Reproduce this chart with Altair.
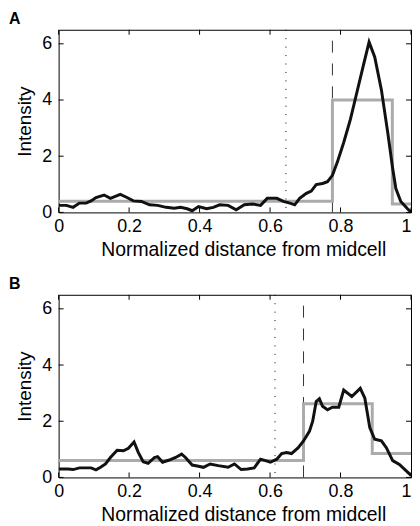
import altair as alt
import pandas as pd

# ---- data ----
xa = [0.0, 0.022, 0.041, 0.059, 0.078, 0.092, 0.106, 0.129, 0.147, 0.175, 0.194, 0.212, 0.235, 0.258,
      0.281, 0.305, 0.328, 0.346, 0.365, 0.379, 0.397, 0.420, 0.439, 0.457, 0.481, 0.504, 0.527, 0.550,
      0.573, 0.592, 0.619, 0.638, 0.656, 0.670, 0.684, 0.703, 0.717, 0.731, 0.749, 0.763, 0.777, 0.791,
      0.809, 0.828, 0.846, 0.865, 0.881, 0.897, 0.916, 0.934, 0.948, 0.957, 0.971, 0.990, 1.0]
ya = [0.25, 0.25, 0.18, 0.33, 0.33, 0.41, 0.53, 0.62, 0.50, 0.64, 0.53, 0.41, 0.39, 0.27,
      0.25, 0.18, 0.15, 0.18, 0.13, 0.06, 0.21, 0.13, 0.18, 0.27, 0.25, 0.09, 0.27, 0.30,
      0.25, 0.50, 0.50, 0.39, 0.33, 0.27, 0.50, 0.68, 0.76, 0.99, 1.03, 1.09, 1.32, 1.79,
      2.49, 3.31, 4.25, 5.24, 6.06, 5.53, 4.36, 2.84, 1.56, 0.85, 0.39, 0.13, 0.01]

xb = [0.0, 0.027, 0.041, 0.059, 0.078, 0.092, 0.106, 0.119, 0.133, 0.147, 0.166, 0.184, 0.198, 0.214,
      0.226, 0.240, 0.254, 0.272, 0.281, 0.295, 0.314, 0.332, 0.349, 0.360, 0.379, 0.397, 0.411, 0.430,
      0.453, 0.481, 0.499, 0.518, 0.536, 0.555, 0.573, 0.587, 0.601, 0.619, 0.633, 0.647, 0.661, 0.680,
      0.695, 0.712, 0.721, 0.731, 0.740, 0.749, 0.763, 0.777, 0.795, 0.809, 0.832, 0.856, 0.869, 0.883,
      0.897, 0.916, 0.930, 0.948, 0.967, 0.985, 1.0]
yb = [0.30, 0.30, 0.28, 0.34, 0.34, 0.34, 0.27, 0.36, 0.48, 0.71, 0.97, 0.95, 1.04, 1.26,
      0.89, 0.56, 0.50, 0.71, 0.74, 0.54, 0.62, 0.71, 0.83, 0.71, 0.44, 0.40, 0.36, 0.48,
      0.42, 0.36, 0.48, 0.28, 0.30, 0.34, 0.65, 0.60, 0.54, 0.65, 0.85, 0.89, 0.85, 1.06,
      1.30, 1.65, 2.00, 2.70, 2.80, 2.53, 2.41, 2.50, 2.50, 3.11, 2.88, 3.17, 2.82, 1.77,
      1.36, 1.30, 1.06, 0.60, 0.46, 0.25, 0.07]

step_xa = [0.0, 0.777, 0.947, 1.0]
step_ya = [0.4, 4.0, 0.3, 0.3]
step_xb = [0.0, 0.695, 0.89, 1.0]
step_yb = [0.6, 2.62, 0.85, 0.85]

dotted_a, dashed_a = 0.645, 0.777
dotted_b, dashed_b = 0.614, 0.695

x_ticks = [0, 0.2, 0.4, 0.6, 0.8, 1.0]
y_ticks = [0, 2, 4, 6]

W, H = 355, 184
FONT = "Liberation Sans"


def panel(label, cx, cy, sx, sy, xdot, xdash):
    curve = pd.DataFrame({"x": cx, "y": cy})
    step = pd.DataFrame({"x": sx, "y": sy})
    xs = alt.Scale(domain=[0, 1], nice=False)
    ys = alt.Scale(domain=[0, 6.5], nice=False)
    xax = alt.Axis(values=x_ticks, format="~g", ticks=False, grid=False, domain=False,
                   title="Normalized distance from midcell", labelFontSize=18, titleFontSize=19.5,
                   labelFont=FONT, titleFont=FONT, labelColor="black", titleColor="black",
                   titleFontWeight="normal", labelPadding=5, titlePadding=5, labelFlush=False,
                   labelAlign=alt.expr("datum.value == 1 ? 'right' : 'center'"),
                   titleX=186)
    yax = alt.Axis(values=y_ticks, ticks=False, grid=False, domain=False, title="Intensity",
                   labelFontSize=18, titleFontSize=19, labelFont=FONT, titleFont=FONT,
                   labelColor="black", titleColor="black", titleFontWeight="normal",
                   labelPadding=7, titlePadding=7)

    base = alt.Chart(step)
    stepl = base.mark_line(interpolate="step-after", color="#ababab", strokeWidth=3, clip=True).encode(
        x=alt.X("x:Q", scale=xs, axis=xax), y=alt.Y("y:Q", scale=ys, axis=yax))
    curvel = alt.Chart(curve).mark_line(color="#111111", strokeWidth=3, clip=True).encode(
        x=alt.X("x:Q", scale=xs), y=alt.Y("y:Q", scale=ys))
    vl = pd.DataFrame({"x": [xdot]})
    vd = pd.DataFrame({"x": [xdash]})
    dot = alt.Chart(vl).mark_rule(color="black", strokeWidth=1, strokeDash=[1, 7.5]).encode(
        x=alt.X("x:Q", scale=xs), y=alt.value(0), y2=alt.value(H))
    dash = alt.Chart(vd).mark_rule(color="#333333", strokeWidth=1, strokeDash=[12, 11]).encode(
        x=alt.X("x:Q", scale=xs), y=alt.value(H), y2=alt.value(0))
    xt = pd.DataFrame({"x": x_ticks})
    yt = pd.DataFrame({"y": y_ticks})
    xtb = alt.Chart(xt).mark_rule(color="black", strokeWidth=1).encode(
        x=alt.X("x:Q", scale=xs), y=alt.value(H), y2=alt.value(H - 5))
    xtt = alt.Chart(xt).mark_rule(color="black", strokeWidth=1).encode(
        x=alt.X("x:Q", scale=xs), y=alt.value(0), y2=alt.value(5))
    ytl = alt.Chart(yt).mark_rule(color="black", strokeWidth=1).encode(
        y=alt.Y("y:Q", scale=ys), x=alt.value(0), x2=alt.value(5))
    ytr = alt.Chart(yt).mark_rule(color="black", strokeWidth=1).encode(
        y=alt.Y("y:Q", scale=ys), x=alt.value(W), x2=alt.value(W - 5))
    return alt.layer(dot, dash, stepl, curvel, xtb, xtt, ytl, ytr).properties(
        width=W, height=H,
        title=alt.TitleParams(text=label, anchor="start", frame="bounds", fontSize=16,
                              fontWeight="bold", font=FONT, color="black", dx=-7, offset=2))


chart = alt.vconcat(
    panel("A", xa, ya, step_xa, step_ya, dotted_a, dashed_a),
    panel("B", xb, yb, step_xb, step_yb, dotted_b, dashed_b),
    spacing=17,
).properties(padding={"left": 0, "top": 1, "right": 0, "bottom": 0}, background="white").configure_view(
    stroke="black", strokeWidth=1)

chart.save("out.html", embed_options={"renderer": "svg", "actions": False})
